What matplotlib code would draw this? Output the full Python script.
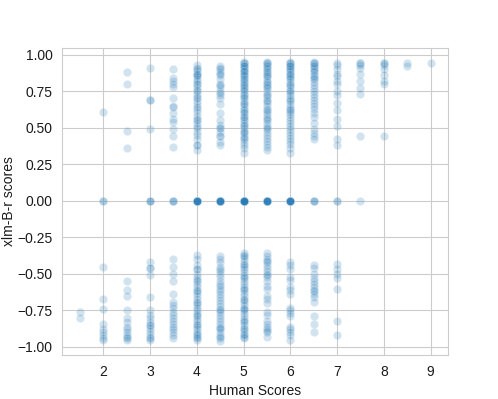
import numpy as np
import matplotlib
matplotlib.use("Agg")
import matplotlib.pyplot as plt
import seaborn as sns

# Human score columns and their metric scores
x_levels = [1.5, 2.0, 2.5, 3.0, 3.5, 4.0, 4.5, 5.0, 5.5, 6.0, 6.5, 7.0, 7.5, 8.0, 8.5, 9.0]

upper = {
    1.5: [],
    2.0: [0.61],
    2.5: [0.88, 0.80, 0.48, 0.36],
    3.0: [0.91, 0.69, 0.69, 0.49],
    3.5: [0.90, 0.84, 0.82, 0.80, 0.78, 0.70, 0.65, 0.64, 0.60, 0.56, 0.54, 0.49, 0.44, 0.37],
    4.0: [0.93, 0.91, 0.89, 0.87, 0.87, 0.85, 0.83, 0.80, 0.80, 0.78, 0.76, 0.73, 0.71, 0.68,
          0.66, 0.63, 0.61, 0.58, 0.56, 0.53, 0.51, 0.47, 0.45, 0.42, 0.38, 0.38, 0.35,
          0.90, 0.86, 0.82, 0.75, 0.70, 0.64, 0.55, 0.50],
    4.5: [0.92, 0.90, 0.88, 0.86, 0.83, 0.80, 0.78, 0.75, 0.72, 0.70, 0.66, 0.60, 0.55,
          0.52, 0.50, 0.50, 0.47, 0.44, 0.44, 0.40, 0.38, 0.91, 0.87, 0.79, 0.74],
    5.0: [0.95, 0.94, 0.93, 0.92, 0.91, 0.90, 0.89, 0.88, 0.87, 0.85, 0.84, 0.82, 0.81, 0.80,
          0.78, 0.77, 0.75, 0.73, 0.72, 0.70, 0.68, 0.67, 0.65, 0.63, 0.62, 0.60, 0.58, 0.56,
          0.55, 0.53, 0.51, 0.50, 0.48, 0.46, 0.44, 0.42, 0.40, 0.38, 0.36, 0.33,
          0.94, 0.92, 0.89, 0.86, 0.83, 0.79, 0.76, 0.71, 0.66, 0.61, 0.57, 0.52, 0.47, 0.43],
    5.5: [0.95, 0.94, 0.93, 0.92, 0.90, 0.89, 0.87, 0.86, 0.84, 0.82, 0.80, 0.79, 0.77, 0.75,
          0.73, 0.71, 0.69, 0.67, 0.65, 0.63, 0.61, 0.59, 0.57, 0.55, 0.53, 0.51, 0.49, 0.47,
          0.45, 0.43, 0.41, 0.39, 0.37, 0.35,
          0.94, 0.91, 0.88, 0.85, 0.81, 0.78, 0.72, 0.68, 0.62, 0.56, 0.50],
    6.0: [0.95, 0.94, 0.93, 0.92, 0.91, 0.89, 0.88, 0.86, 0.85, 0.83, 0.81, 0.80, 0.78, 0.76,
          0.74, 0.72, 0.70, 0.68, 0.66, 0.64, 0.63, 0.61, 0.59, 0.57, 0.55, 0.53, 0.51, 0.49,
          0.47, 0.45, 0.43, 0.41, 0.39, 0.36, 0.33,
          0.94, 0.92, 0.90, 0.87, 0.84, 0.79, 0.75, 0.69, 0.62],
    6.5: [0.95, 0.94, 0.93, 0.91, 0.90, 0.88, 0.86, 0.85, 0.83, 0.81, 0.79, 0.77, 0.75, 0.73,
          0.71, 0.69, 0.67, 0.65, 0.63, 0.60, 0.57, 0.53, 0.49, 0.46, 0.44, 0.42,
          0.94, 0.92, 0.89, 0.84],
    7.0: [0.94, 0.93, 0.90, 0.87, 0.85, 0.82, 0.80, 0.75, 0.72, 0.67, 0.62, 0.56, 0.51, 0.42, 0.38],
    7.5: [0.94, 0.94, 0.93, 0.91, 0.87, 0.82, 0.77, 0.73, 0.44],
    8.0: [0.94, 0.94, 0.93, 0.90, 0.86, 0.82, 0.80, 0.44],
    8.5: [0.94, 0.92],
    9.0: [0.94],
}

zero_counts = {1.5: 0, 2.0: 2, 2.5: 0, 3.0: 3, 3.5: 3, 4.0: 10, 4.5: 10, 5.0: 12,
               5.5: 10, 6.0: 10, 6.5: 3, 7.0: 2, 7.5: 1, 8.0: 0, 8.5: 0, 9.0: 0}

lower = {
    1.5: [-0.76, -0.80],
    2.0: [-0.45, -0.67, -0.74, -0.84, -0.88, -0.90, -0.92, -0.94, -0.95],
    2.5: [-0.55, -0.61, -0.65, -0.75, -0.80, -0.83, -0.86, -0.88, -0.90, -0.92, -0.93,
          -0.94, -0.95],
    3.0: [-0.42, -0.46, -0.46, -0.51, -0.66, -0.75, -0.78, -0.80, -0.83, -0.85, -0.85,
          -0.87, -0.89, -0.91, -0.93, -0.94, -0.95],
    3.5: [-0.40, -0.45, -0.50, -0.55, -0.64, -0.69, -0.71, -0.73, -0.76, -0.78, -0.80,
          -0.82, -0.84, -0.86, -0.88, -0.90, -0.92, -0.94],
    4.0: [-0.37, -0.40, -0.44, -0.47, -0.47, -0.50, -0.52, -0.55, -0.57, -0.59, -0.61,
          -0.63, -0.65, -0.67, -0.69, -0.71, -0.73, -0.75, -0.77, -0.79, -0.81, -0.82,
          -0.84, -0.86, -0.88, -0.90, -0.92, -0.93, -0.95,
          -0.54, -0.62, -0.70, -0.78, -0.85, -0.91, -0.94],
    4.5: [-0.38, -0.40, -0.42, -0.45, -0.47, -0.50, -0.52, -0.55, -0.57, -0.60, -0.62,
          -0.64, -0.66, -0.68, -0.70, -0.72, -0.74, -0.76, -0.78, -0.80, -0.82, -0.84,
          -0.86, -0.88, -0.90, -0.92, -0.94, -0.96,
          -0.48, -0.58, -0.75, -0.87, -0.93],
    5.0: [-0.36, -0.37, -0.39, -0.41, -0.43, -0.45, -0.47, -0.49, -0.51, -0.53, -0.55,
          -0.57, -0.59, -0.61, -0.63, -0.65, -0.67, -0.69, -0.71, -0.73, -0.75, -0.77,
          -0.79, -0.81, -0.83, -0.85, -0.87, -0.89, -0.91, -0.93, -0.94,
          -0.38, -0.44, -0.52, -0.60, -0.68, -0.74, -0.82, -0.88, -0.92],
    5.5: [-0.36, -0.38, -0.40, -0.42, -0.44, -0.46, -0.48, -0.50, -0.52, -0.55, -0.58,
          -0.60, -0.65, -0.67, -0.70, -0.76, -0.78, -0.82, -0.84, -0.86, -0.88, -0.90,
          -0.93, -0.41, -0.51, -0.89],
    6.0: [-0.42, -0.44, -0.47, -0.52, -0.54, -0.59, -0.61, -0.64, -0.73, -0.75, -0.77,
          -0.79, -0.86, -0.88, -0.90, -0.92, -0.95],
    6.5: [-0.44, -0.46, -0.50, -0.53, -0.55, -0.57, -0.59, -0.61, -0.62, -0.64, -0.66,
          -0.69, -0.79, -0.84, -0.90],
    7.0: [-0.43, -0.47, -0.50, -0.53, -0.60, -0.82, -0.92],
    7.5: [], 8.0: [], 8.5: [], 9.0: [],
}

xs, ys = [], []
for xv in x_levels:
    vals = upper[xv] + [0.0] * zero_counts[xv] + lower[xv]
    xs += [xv] * len(vals)
    ys += vals

sns.set_style("whitegrid")
plt.rcParams['font.family'] = ['Liberation Sans', 'DejaVu Sans']
plt.rcParams['text.color'] = '#1a1a1a'
plt.rcParams['xtick.color'] = '#1a1a1a'
plt.rcParams['ytick.color'] = '#1a1a1a'
plt.rcParams['axes.labelcolor'] = '#1a1a1a'

fig, ax = plt.subplots(figsize=(4.98, 3.99), dpi=100)
sns.scatterplot(x=xs, y=ys, alpha=0.2, ax=ax)
ax.set_xlabel("Human Scores")
ax.set_ylabel("xlm-B-r scores", labelpad=1)
fig.savefig("out.png", dpi=100)
